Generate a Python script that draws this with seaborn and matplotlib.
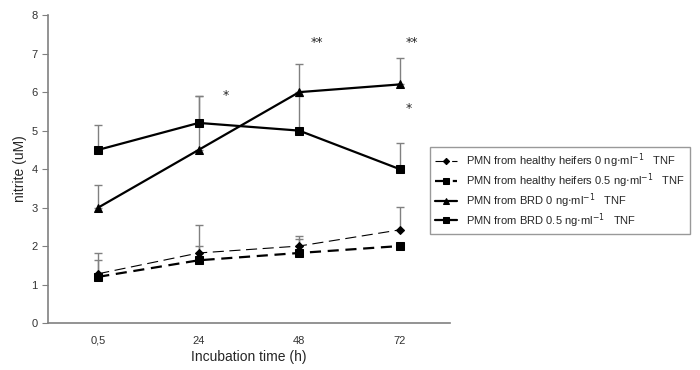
import numpy as np
import pandas as pd
import matplotlib
matplotlib.use("Agg")
import matplotlib.pyplot as plt
import seaborn as sns

# data
times = ["0,5", "24", "48", "72"]
healthy_0 = [1.28, 1.82, 2.0, 2.42]
healthy_0_err = [0.55, 0.72, 0.27, 0.6]
healthy_05 = [1.2, 1.63, 1.82, 2.0]
healthy_05_err = [0.43, 0.37, 0.36, 0.0]
brd_0 = [3.0, 4.5, 6.0, 6.2]
brd_0_err = [0.58, 1.4, 0.72, 0.68]
brd_05 = [4.5, 5.2, 5.0, 4.0]
brd_05_err = [0.65, 0.7, 0.9, 0.67]

unit = r" ng$\cdot$ml$^{-1}$   TNF"
labels = ["PMN from healthy heifers 0" + unit,
          "PMN from healthy heifers 0.5" + unit,
          "PMN from BRD 0" + unit,
          "PMN from BRD 0.5" + unit]

sns.set_style("white")
plt.rcParams["font.family"] = ["Liberation Sans", "DejaVu Sans"]

x = np.arange(len(times))
df = pd.DataFrame({
    "x": np.tile(x, 4),
    "y": healthy_0 + healthy_05 + brd_0 + brd_05,
    "series": np.repeat(labels, len(times)),
})

fig = plt.figure(figsize=(7, 3.7), dpi=100)
ax = fig.add_axes([0.0686, 0.127, 0.574, 0.832])

styles = [
    dict(marker="D", markersize=4, lw=0.8, dashes=(10, 5)),
    dict(marker="s", markersize=6, lw=1.6, dashes=(5, 3)),
    dict(marker="^", markersize=6, lw=1.6, dashes=()),
    dict(marker="s", markersize=6, lw=1.6, dashes=()),
]
errs = [healthy_0_err, healthy_05_err, brd_0_err, brd_05_err]
vals = [healthy_0, healthy_05, brd_0, brd_05]

for lab, st, v, e in zip(labels, styles, vals, errs):
    ax.errorbar(x, v, yerr=[np.zeros(len(v)), e], fmt="none",
                ecolor="#808080", elinewidth=1.0, capsize=3, capthick=1.0, zorder=1)
    sub = df[df["series"] == lab]
    sns.lineplot(data=sub, x="x", y="y", ax=ax, color="black",
                 marker=st["marker"], markersize=st["markersize"],
                 linewidth=st["lw"], label=lab, markeredgecolor="black",
                 zorder=3)
    ln = ax.lines[-1]
    if st["dashes"]:
        ln.set_dashes(st["dashes"])

# significance marks
for xi, yi, s in [(1.27, 5.9, "*"), (2.18, 7.3, "**"), (3.12, 7.28, "**"), (3.09, 5.58, "*")]:
    ax.text(xi, yi, s, fontsize=9, ha="center", va="center", family="DejaVu Sans")

ax.set_xlim(-0.5, 3.5)
ax.set_ylim(0, 8)
ax.set_xticks(x)
ax.set_xticklabels(times)
ax.set_yticks(range(0, 9))
ax.tick_params(axis="x", length=0, labelsize=8, pad=9, colors="#333333")
ax.tick_params(axis="y", length=4, direction="out", labelsize=8, colors="#333333",
               left=True, color="#808080")
ax.set_xlabel("Incubation time (h)", fontsize=10, labelpad=3)
ax.set_ylabel("nitrite (uM)", fontsize=10, labelpad=3)
sns.despine(ax=ax)
for sp in ["left", "bottom"]:
    ax.spines[sp].set_color("#808080")
    ax.spines[sp].set_linewidth(1.2)

leg = ax.legend(loc="upper left", bbox_to_anchor=(0.938, 0.59), fontsize=8,
                frameon=True, fancybox=False, edgecolor="#808080",
                handlelength=2.0, labelspacing=0.12, borderpad=0.4,
                markerscale=0.8)
leg.get_frame().set_linewidth(1.0)

fig.savefig("out.png", dpi=100)
